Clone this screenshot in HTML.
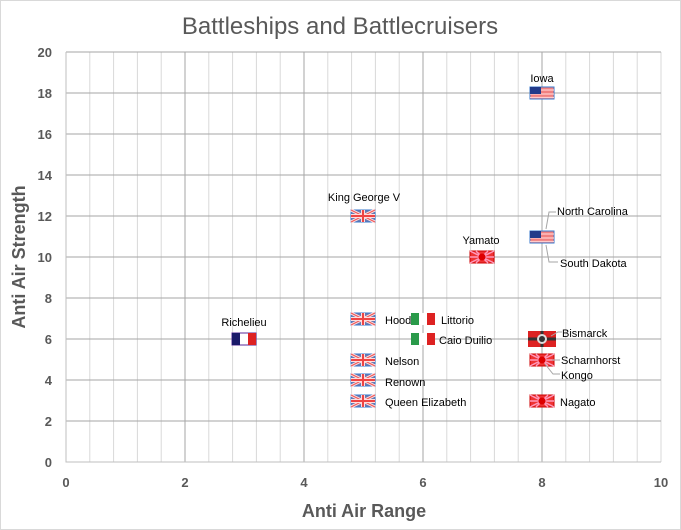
<!DOCTYPE html>
<html><head><meta charset="utf-8"><style>
body{margin:0;background:#fff}
svg{display:block;font-family:"Liberation Sans",Calibri,sans-serif}
</style></head><body>
<svg width="681" height="530" viewBox="0 0 681 530">
<defs>
<g id="uk"><rect x="-12" y="-6" width="24" height="12" fill="#6a7ab0" stroke="#3a7acc"/>
<path d="M-12,-6L12,6M12,-6L-12,6" stroke="#fdd" stroke-width="3"/>
<path d="M-12,-6L12,6M12,-6L-12,6" stroke="#e55" stroke-width="1"/>
<path d="M0,-6V6M-12,0H12" stroke="#fdd" stroke-width="4"/>
<path d="M0,-6V6M-12,0H12" stroke="#e44" stroke-width="2"/></g>
<g id="us"><rect x="-12" y="-6" width="24" height="12" fill="#f08080" stroke="#3a7acc"/>
<path d="M-12,-3H12M-12,1H12M-12,4.5H12" stroke="#fcc" stroke-width="1.3"/>
<rect x="-12" y="-6" width="11" height="7" fill="#223a8a"/></g>
<g id="jp"><rect x="-12" y="-6" width="24" height="12" fill="#e33" stroke="#c00"/>
<path d="M0,0L-12,-6M0,0L12,-6M0,0L-12,6M0,0L12,6M0,0H-12M0,0H12M0,0L-6,-6M0,0L6,-6M0,0L-6,6M0,0L6,6" stroke="#f9b" stroke-width="1.5"/>
<circle r="3.5" fill="#d00"/></g>
<g id="it"><rect x="-12" y="-6" width="8" height="12" fill="#2a9a4a"/><rect x="-4" y="-6" width="8" height="12" fill="#fff"/><rect x="4" y="-6" width="8" height="12" fill="#d22"/></g>
<g id="fr"><rect x="-12" y="-6" width="24" height="12" fill="#fff" stroke="#5a2a9a"/><rect x="-12" y="-6" width="8" height="12" fill="#1a1a6a"/><rect x="4" y="-6" width="8" height="12" fill="#d22"/></g>
<g id="de"><rect x="-14" y="-8" width="28" height="16" fill="#d22"/><path d="M-14,0H14M0,-8V8" stroke="#333" stroke-width="3"/><circle r="5" fill="#ddd"/><circle r="3" fill="#333"/></g>
</defs>
<rect x="0.5" y="0.5" width="680" height="529" fill="#fff" stroke="#d9d9d9"/>
<text x="340" y="34" font-size="24" fill="#595959" text-anchor="middle">Battleships and Battlecruisers</text>
<g stroke="#d9d9d9" stroke-width="1">
<path d="M89.8,52V462M113.6,52V462M137.4,52V462M161.2,52V462M208.8,52V462M232.6,52V462M256.4,52V462M280.2,52V462M327.8,52V462M351.6,52V462M375.4,52V462M399.2,52V462M446.8,52V462M470.6,52V462M494.4,52V462M518.2,52V462M565.8,52V462M589.6,52V462M613.4,52V462M637.2,52V462M661,52V462"/>
</g>
<g stroke="#a6a6a6" stroke-width="1">
<path d="M185,52V462M304,52V462M423,52V462M542,52V462"/>
<path d="M66,52H661M66,93H661M66,134H661M66,175H661M66,216H661M66,257H661M66,298H661M66,339H661M66,380H661M66,421H661"/>
</g>
<path d="M66,52V462H661" stroke="#bfbfbf" fill="none"/>
<g font-size="13" font-weight="bold" fill="#595959" text-anchor="end">
<text x="52" y="57">20</text><text x="52" y="98">18</text><text x="52" y="139">16</text><text x="52" y="180">14</text><text x="52" y="221">12</text><text x="52" y="262">10</text><text x="52" y="303">8</text><text x="52" y="344">6</text><text x="52" y="385">4</text><text x="52" y="426">2</text><text x="52" y="467">0</text>
</g>
<g font-size="13" font-weight="bold" fill="#595959" text-anchor="middle">
<text x="66" y="487">0</text><text x="185" y="487">2</text><text x="304" y="487">4</text><text x="423" y="487">6</text><text x="542" y="487">8</text><text x="661" y="487">10</text>
</g>
<text x="364" y="517" font-size="18" font-weight="bold" fill="#595959" text-anchor="middle">Anti Air Range</text>
<text transform="translate(25,257) rotate(-90)" font-size="18" font-weight="bold" fill="#595959" text-anchor="middle">Anti Air Strength</text>
<use href="#us" x="542" y="93"/><use href="#us" x="542" y="237"/>
<use href="#uk" x="363" y="216"/><use href="#uk" x="363" y="319"/><use href="#uk" x="363" y="360"/><use href="#uk" x="363" y="380"/><use href="#uk" x="363" y="401"/>
<use href="#jp" x="482" y="257"/><use href="#jp" x="542" y="360"/><use href="#jp" x="542" y="401"/>
<use href="#it" x="423" y="319"/><use href="#it" x="423" y="339"/>
<use href="#fr" x="244" y="339"/>
<use href="#de" x="542" y="339"/>
<g stroke="#a6a6a6" fill="none">
<path d="M546,229L549,212H556"/><path d="M546,245L549,262H558"/>
<path d="M551,336L558,332H562"/><path d="M552,360H560"/><path d="M545,364L553,374H560"/>
</g>
<g font-size="11" fill="#000">
<text x="542" y="82" text-anchor="middle">Iowa</text>
<text x="364" y="201" text-anchor="middle">King George V</text>
<text x="481" y="244" text-anchor="middle">Yamato</text>
<text x="244" y="326" text-anchor="middle">Richelieu</text>
<text x="557" y="215">North Carolina</text>
<text x="560" y="267">South Dakota</text>
<text x="385" y="324">Hood</text>
<text x="441" y="324">Littorio</text>
<text x="439" y="344">Caio Duilio</text>
<text x="385" y="365">Nelson</text>
<text x="385" y="386">Renown</text>
<text x="385" y="406">Queen Elizabeth</text>
<text x="562" y="337">Bismarck</text>
<text x="561" y="364">Scharnhorst</text>
<text x="561" y="379">Kongo</text>
<text x="560" y="406">Nagato</text>
</g>
</svg>
</body></html>
